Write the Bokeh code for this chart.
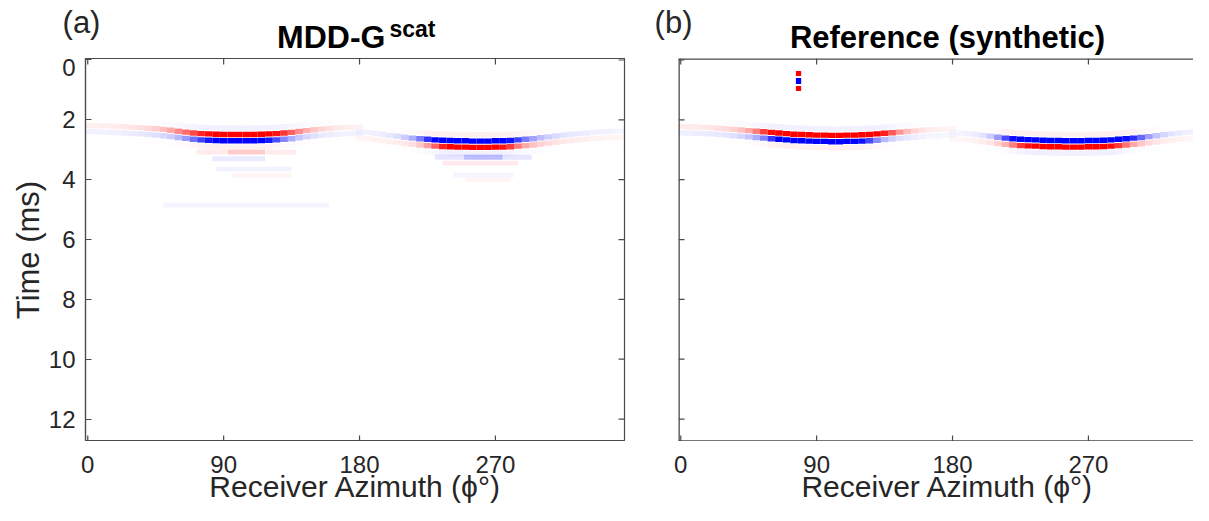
from bokeh.plotting import figure
from bokeh.models import Range1d, FixedTicker, Label, ColumnDataSource
from bokeh.core.properties import value
from bokeh.layouts import row, column
from bokeh.embed import file_html
from bokeh.resources import INLINE

# ---------------- data ----------------
X_TICKS = [0, 90, 180, 270]
Y_TICKS = [0, 2, 4, 6, 8, 10, 12]

AZ_W = [0, 5, 10, 15, 20, 25, 30, 35, 40, 45, 50, 55, 60, 65, 70, 75, 80, 85, 90,
        95, 100, 105, 110, 115, 120, 125, 130, 135, 140, 145, 150, 155, 160, 165,
        170, 175, 180]
AZ_E = [180, 185, 190, 195, 200, 205, 210, 215, 220, 225, 230, 235, 240, 245, 250,
        255, 260, 265, 270, 275, 280, 285, 290, 295, 300, 305, 310, 315, 320, 325,
        330, 335, 340, 345, 350, 355]

# panel (a) MDD-G scat : west event (red lobe first), east event (blue lobe first)
A_T_W = [2.18, 2.19, 2.20, 2.21, 2.22, 2.23, 2.25, 2.26, 2.28, 2.30, 2.32, 2.35, 2.38,
         2.41, 2.44, 2.46, 2.47, 2.48, 2.49, 2.49, 2.49, 2.49, 2.49, 2.48, 2.47, 2.46,
         2.44, 2.42, 2.39, 2.36, 2.33, 2.31, 2.29, 2.27, 2.26, 2.25, 2.24]
A_RED_W = [0.06, 0.06, 0.07, 0.07, 0.08, 0.09, 0.10, 0.12, 0.15, 0.19, 0.25, 0.34,
           0.45, 0.58, 0.72, 0.86, 0.95, 1.0, 1.0, 1.0, 1.0, 1.0, 1.0, 1.0,
           1.0, 0.93, 0.80, 0.62, 0.45, 0.32, 0.22, 0.16, 0.12, 0.09, 0.07, 0.06, 0.05]
A_BLUE_W = [0.05, 0.05, 0.05, 0.06, 0.06, 0.07, 0.08, 0.09, 0.10, 0.12, 0.15, 0.20,
            0.28, 0.40, 0.56, 0.75, 0.90, 1.0, 1.0, 1.0, 1.0, 1.0, 1.0, 1.0,
            0.90, 0.70, 0.48, 0.32, 0.22, 0.16, 0.12, 0.09, 0.07, 0.06, 0.05, 0.05, 0.04]
A_T_E = [2.40, 2.42, 2.45, 2.48, 2.52, 2.55, 2.58, 2.61, 2.63, 2.65, 2.67, 2.68,
         2.69, 2.70, 2.70, 2.71, 2.71, 2.71, 2.70, 2.70, 2.69, 2.67, 2.65, 2.63,
         2.60, 2.57, 2.54, 2.51, 2.48, 2.46, 2.44, 2.42, 2.40, 2.39, 2.38, 2.37]
A_BLUE_E = [0.04, 0.05, 0.06, 0.07, 0.09, 0.13, 0.20, 0.32, 0.52, 0.80, 1.0, 1.0,
            1.0, 1.0, 1.0, 1.0, 1.0, 1.0, 1.0, 1.0, 0.93, 0.75, 0.52, 0.36,
            0.26, 0.19, 0.14, 0.11, 0.09, 0.08, 0.07, 0.06, 0.05, 0.05, 0.04, 0.04]
A_RED_E = [0.04, 0.04, 0.05, 0.05, 0.06, 0.07, 0.09, 0.13, 0.22, 0.38, 0.62, 0.88,
           1.0, 1.0, 1.0, 1.0, 1.0, 1.0, 1.0, 0.92, 0.75, 0.52, 0.34, 0.24,
           0.18, 0.14, 0.11, 0.09, 0.08, 0.07, 0.06, 0.05, 0.05, 0.04, 0.04, 0.03]
# faint ringing below the events in panel (a): centre azimuth, span, time, sign, amplitude
RING_AZ = [105, 82, 128, 100, 110, 115, 105, 262, 240, 284, 260, 262, 265]
RING_SPAN = [25, 20, 20, 35, 50, 40, 110, 25, 20, 20, 50, 40, 30]
RING_T = [3.08, 3.08, 3.08, 3.30, 3.65, 3.85, 4.85, 3.25, 3.25, 3.25, 3.45, 3.85, 4.00]
RING_SIGN = [1, 1, 1, -1, -1, 1, -1, -1, -1, -1, 1, -1, 1]
RING_AMP = [0.20, 0.08, 0.08, 0.08, 0.05, 0.04, 0.04, 0.26, 0.10, 0.10, 0.08, 0.04, 0.04]

# panel (b) Reference (synthetic)
B_T_W = [2.22, 2.23, 2.24, 2.25, 2.26, 2.28, 2.30, 2.32, 2.34, 2.36, 2.38, 2.40,
         2.42, 2.44, 2.46, 2.48, 2.49, 2.50, 2.51, 2.51, 2.52, 2.52, 2.51, 2.51,
         2.50, 2.49, 2.47, 2.45, 2.43, 2.41, 2.39, 2.37, 2.35, 2.33, 2.32, 2.31, 2.30]
B_RED_W = [0.07, 0.08, 0.08, 0.09, 0.10, 0.12, 0.14, 0.18, 0.24, 0.34, 0.50, 0.75,
           0.95, 1.0, 1.0, 1.0, 1.0, 1.0, 1.0, 1.0, 1.0, 1.0, 1.0, 1.0,
           1.0, 1.0, 1.0, 0.88, 0.65, 0.42, 0.26, 0.16, 0.11, 0.08, 0.06, 0.05, 0.04]
B_BLUE_W = [0.06, 0.06, 0.07, 0.07, 0.08, 0.09, 0.10, 0.12, 0.16, 0.22, 0.32, 0.50,
            0.78, 1.0, 1.0, 1.0, 1.0, 1.0, 1.0, 1.0, 1.0, 1.0, 1.0, 1.0,
            0.95, 0.72, 0.45, 0.28, 0.18, 0.12, 0.09, 0.07, 0.05, 0.04, 0.04, 0.03, 0.03]
B_T_E = [2.42, 2.44, 2.46, 2.49, 2.52, 2.55, 2.58, 2.61, 2.63, 2.65, 2.66, 2.67,
         2.68, 2.69, 2.69, 2.70, 2.70, 2.70, 2.69, 2.69, 2.68, 2.67, 2.65, 2.63,
         2.61, 2.59, 2.56, 2.53, 2.50, 2.47, 2.44, 2.42, 2.40, 2.38, 2.37, 2.36]
B_BLUE_E = [0.03, 0.04, 0.05, 0.07, 0.11, 0.20, 0.40, 0.72, 0.95, 1.0, 1.0, 1.0,
            1.0, 1.0, 1.0, 1.0, 1.0, 1.0, 1.0, 1.0, 1.0, 1.0, 1.0, 0.95,
            0.82, 0.60, 0.38, 0.24, 0.16, 0.11, 0.08, 0.06, 0.05, 0.04, 0.04, 0.03]
B_RED_E = [0.03, 0.03, 0.04, 0.05, 0.07, 0.10, 0.18, 0.30, 0.50, 0.78, 0.95, 1.0,
           1.0, 1.0, 1.0, 1.0, 1.0, 1.0, 1.0, 1.0, 1.0, 0.95, 0.78, 0.55,
           0.35, 0.22, 0.15, 0.10, 0.07, 0.06, 0.05, 0.04, 0.04, 0.03, 0.03, 0.03]
# source wavelet marker in panel (b)
SRC_AZ = 78
SRC_T = [0.45, 0.70, 0.95]
SRC_SIGN = [1, -1, 1]

XLABEL = "Receiver Azimuth (ϕ°)"
YLABEL = "Time (ms)"

RED = "#ff0000"
BLUE = "#0000ff"
LOBE_DT = 0.21
FONT = "Liberation Sans"
TXT = "#262626"
AXC = "#4a4a4a"
X0, Y0, Y1 = -1.5, -0.05, 12.75
FRAME_H = 383
PXD = 1.5098                      # pixels per degree
PXT = FRAME_H / (Y1 - Y0)         # pixels per ms
TOP_H, BOT_H = 58, 64
TOTAL_W = 1193
LEFT_A, RIGHT_A, LEFT_B = 85, 20, 34
TICK_PX = 6


def event(az, t, amp1, amp2, c1, c2):
    d = dict(x=[], y=[], w=[], h=[], c=[], a=[])
    for a, tt, a1, a2 in zip(az, t, amp1, amp2):
        for yy, cc, al in ((tt - LOBE_DT, c2, 0.06 * a1), (tt, c1, a1),
                           (tt + LOBE_DT, c2, a2), (tt + 2 * LOBE_DT, c1, 0.06 * a2)):
            d["x"].append(a); d["y"].append(yy); d["w"].append(5.0); d["h"].append(0.18)
            d["c"].append(cc); d["a"].append(al)
    return d


def merge(*ds):
    out = dict(x=[], y=[], w=[], h=[], c=[], a=[])
    for d in ds:
        for k in out:
            out[k] += d[k]
    return out


def add_ticks(p, x_end, left, right, frame_lines=False):
    dx = TICK_PX / PXD
    dy = TICK_PX / PXT
    s = dict(x0=[], y0=[], x1=[], y1=[])
    for t in X_TICKS:                      # top and bottom ticks, pointing inwards
        s["x0"] += [t, t]; s["x1"] += [t, t]
        s["y0"] += [Y0, Y1]; s["y1"] += [Y0 + dy, Y1 - dy]
    for edge, sgn, on in ((X0, 1, left), (x_end, -1, right)):
        if on:
            for t in Y_TICKS:
                s["x0"].append(edge); s["x1"].append(edge + sgn * dx)
                s["y0"].append(t); s["y1"].append(t)
    p.segment(x0="x0", y0="y0", x1="x1", y1="y1", line_color=AXC, line_width=1.2,
              source=ColumnDataSource(s))
    if frame_lines:                        # left, top and bottom edges (right edge is cut off)
        f = dict(x0=[X0, X0, X0], y0=[Y0, Y0, Y1], x1=[X0, x_end, x_end], y1=[Y1, Y0, Y1])
        p.segment(x0="x0", y0="y0", x1="x1", y1="y1", line_color=AXC, line_width=2.6,
                  source=ColumnDataSource(f))


def make_panel(x_end, border_left, border_right):
    p = figure(frame_width=round((x_end - X0) * PXD), frame_height=FRAME_H,
               x_range=Range1d(X0, x_end), y_range=Range1d(Y1, Y0),
               x_axis_location=None, output_backend="svg", toolbar_location=None,
               min_border_left=border_left, min_border_right=border_right,
               min_border_top=0, min_border_bottom=0)
    p.grid.visible = False
    p.background_fill_color = "white"
    return p


def strip(height):
    p = figure(frame_width=TOTAL_W, frame_height=height,
               x_range=Range1d(0, TOTAL_W), y_range=Range1d(height, 0),
               output_backend="svg", toolbar_location=None, min_border=0,
               x_axis_location=None, y_axis_location=None)
    p.grid.visible = False
    p.outline_line_color = None
    return p


def label(p, x, y, s, size, bold=False, align="center"):
    p.add_layout(Label(x=x, y=y, text=s, text_align=align, text_baseline="middle",
                       text_font=FONT, text_font_size=size,
                       text_font_style="bold" if bold else "normal",
                       text_color="black" if bold else TXT))


# ---------------- panel (a) ----------------
XA_END = 355.5
pa = make_panel(XA_END, LEFT_A, RIGHT_A)
pa.outline_line_color = AXC
pa.outline_line_width = 1.2
pa.outline_line_alpha = 1.0
ya = pa.yaxis[0]
ya.ticker = FixedTicker(ticks=Y_TICKS)
ya.major_tick_in = TICK_PX
ya.major_tick_out = 0
ya.minor_tick_line_color = None
ya.axis_line_color = AXC
ya.major_tick_line_color = AXC
ya.axis_line_width = 1.2
ya.major_label_text_font = FONT
ya.major_label_text_font_size = "24px"
ya.major_label_text_color = TXT
ya.major_label_standoff = 10
ya.axis_label = YLABEL
ya.axis_label_text_font = FONT
ya.axis_label_text_font_size = "31px"
ya.axis_label_text_font_style = "normal"
ya.axis_label_text_color = TXT
ya.axis_label_standoff = 0
add_ticks(pa, XA_END, left=False, right=True)

ring = dict(x=list(RING_AZ), y=list(RING_T), w=list(RING_SPAN), h=[0.16] * len(RING_T),
            c=[RED if s > 0 else BLUE for s in RING_SIGN], a=list(RING_AMP))
src_a = ColumnDataSource(merge(
    event(AZ_W, A_T_W, A_RED_W, A_BLUE_W, RED, BLUE),
    event(AZ_E, A_T_E, A_BLUE_E, A_RED_E, BLUE, RED),
    ring))
pa.rect(x="x", y="y", width="w", height="h", fill_color="c", fill_alpha="a",
        line_color=None, source=src_a)

# ---------------- panel (b) ----------------
PB_FRAME_W = TOTAL_W - (LEFT_A + round((XA_END - X0) * PXD) + RIGHT_A) - LEFT_B
XB_END = X0 + PB_FRAME_W / PXD
pb = make_panel(XB_END, LEFT_B, 0)
pb.outline_line_color = None
pb.yaxis.visible = False
add_ticks(pb, XB_END, left=True, right=False, frame_lines=True)

src_wave = dict(x=[SRC_AZ] * len(SRC_T), y=list(SRC_T), w=[3.5] * len(SRC_T),
                h=[0.17, 0.2, 0.17], c=[RED if s > 0 else BLUE for s in SRC_SIGN],
                a=[1.0] * len(SRC_T))
src_b = ColumnDataSource(merge(
    event(AZ_W, B_T_W, B_RED_W, B_BLUE_W, RED, BLUE),
    event(AZ_E, B_T_E, B_BLUE_E, B_RED_E, BLUE, RED),
    src_wave))
pb.rect(x="x", y="y", width="w", height="h", fill_color="c", fill_alpha="a",
        line_color=None, source=src_b)

# pixel offset of each panel's frame inside the full-width strips
FRAME_A = LEFT_A
FRAME_B = LEFT_A + round((XA_END - X0) * PXD) + RIGHT_A + LEFT_B


def az_to_px(frame_left, az):
    return frame_left + (az - X0) * PXD


# ---------------- title strip ----------------
top = strip(TOP_H)
label(top, az_to_px(FRAME_A, -4.15), 22, "(a)", "31px")
label(top, az_to_px(FRAME_A, 197.2), 36.5, "MDD-G", "32px", bold=True, align="right")
label(top, az_to_px(FRAME_A, 199.8), 28.8, "scat", "23px", bold=True, align="left")
label(top, az_to_px(FRAME_B, -4.8), 22, "(b)", "31px")
label(top, az_to_px(FRAME_B, 176.7), 36.5, "Reference (synthetic)", "31px", bold=True)

# ---------------- axis strip (tick labels and x-axis titles) ----------------
bot = strip(BOT_H)
tick_x = [az_to_px(FRAME_A, t) for t in X_TICKS] + [az_to_px(FRAME_B, t) for t in X_TICKS]
tick_txt = [str(t) for t in X_TICKS] * 2
bot.text(x=tick_x, y=[22.5] * len(tick_x), text=tick_txt,
         text_font=value(FONT), text_font_size=value("24px"), text_color=TXT,
         text_align="center", text_baseline="middle")
label(bot, az_to_px(FRAME_A, 177.3), 45, XLABEL, "30px")
label(bot, az_to_px(FRAME_B, 176.7), 45, XLABEL, "30px")

layout = column(top, row(pa, pb), bot)
open("out.html", "w").write(file_html(layout, INLINE))
